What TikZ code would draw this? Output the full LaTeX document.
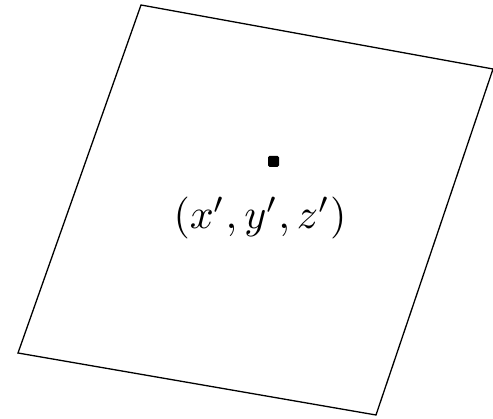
\documentclass[tikz,border=0pt]{standalone}
\begin{document}
\begin{tikzpicture}[x=1pt,y=-1pt,
  edge/.style={line width=1.3pt, line join=miter},
  pt/.style={fill=black, rounded corners=1.5pt}]
\useasboundingbox (0,0) rectangle (493,419);
\coordinate (T) at (141,5);
\coordinate (R) at (493,69);
\coordinate (B) at (376,415);
\coordinate (L) at (18,353);
\draw[edge] (T) -- (R) -- (B) -- (L) -- cycle;
\fill[pt] (268,156) rectangle (279,167);
\node[scale=4.2] (lbl) at (260,218) {$(x',y',z')$};
\end{tikzpicture}
\end{document}
